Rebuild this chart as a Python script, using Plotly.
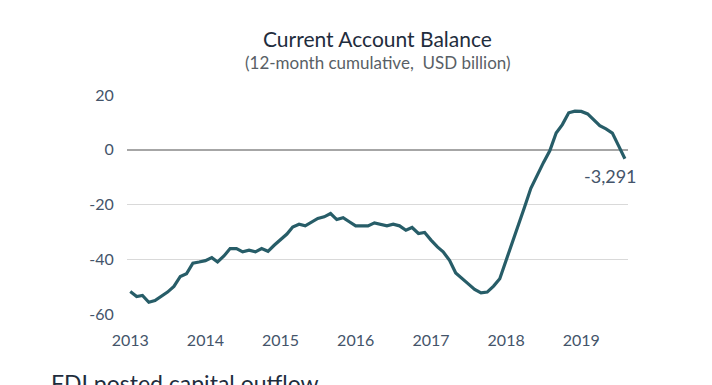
import plotly.graph_objects as go
import pandas as pd

months = pd.date_range("2013-01-01", "2019-08-01", freq="MS")
balance = [
    -51.8, -53.6, -53.2, -55.7, -55.1, -53.6, -52.0, -49.9, -46.3, -45.3, -41.4, -41.0,
    -40.5, -39.4, -41.0, -38.8, -36.1, -36.1, -37.3, -36.7, -37.3, -36.1, -37.1, -34.9,
    -32.7, -30.8, -28.2, -27.2, -27.8, -26.3, -25.1, -24.5, -23.3, -25.5, -24.8, -26.3,
    -27.8, -27.8, -27.8, -26.7, -27.2, -27.8, -27.2, -27.8, -29.4, -28.4, -30.6, -30.2,
    -33.0, -35.5, -37.3, -40.4, -45.0, -47.2, -49.0, -51.0, -52.3, -52.0, -49.8, -47.1,
    -40.4, -33.7, -28.2, -20.8, -14.1, -9.2, -4.7, -0.4, 6.1, 9.2, 13.5, 14.1,
    14.0, 13.1, 11.0, 8.8, 7.6, 6.1, 1.5, -3.291,
]
year_ticks = ["2013-01-01", "2014-01-01", "2015-01-01", "2016-01-01",
              "2017-01-01", "2018-01-01", "2019-01-01"]
year_labels = ["2013", "2014", "2015", "2016", "2017", "2018", "2019"]
y_ticks = [20, 0, -20, -40, -60]
y_labels = ["20", "0", "-20", "-40", "-60"]
last_label = "-3,291"

FONT = "Lato"
fig = go.Figure()
fig.add_trace(go.Scatter(
    x=months, y=balance, mode="lines",
    line=dict(color="#275D68", width=3.2), hoverinfo="skip", showlegend=False,
))
fig.add_annotation(
    x=months[-1], y=balance[-1], text=last_label, showarrow=False,
    xanchor="center", yanchor="middle", xshift=-14, yshift=-17,
    font=dict(family=FONT, size=18, color="#44546A"),
)
fig.add_annotation(
    xref="paper", yref="paper", x=0.5, y=1, yshift=57, xanchor="center", yanchor="middle",
    text="Current Account Balance", showarrow=False,
    font=dict(family=FONT, size=21, color="#1F2D3D"),
)
fig.add_annotation(
    xref="paper", yref="paper", x=0.5, y=1, yshift=33, xanchor="center", yanchor="middle",
    text="(12-month cumulative,  USD billion)", showarrow=False,
    font=dict(family=FONT, size=17, color="#595F66"),
)
fig.add_annotation(
    xref="paper", yref="paper", x=0, xshift=-78, y=0, yshift=-53,
    xanchor="left", yanchor="top",
    text="FDI posted capital outflow", showarrow=False,
    font=dict(family=FONT, size=23, color="#1F2D3D"),
)
fig.update_layout(
    width=704, height=377,
    margin=dict(l=119, r=84, t=87, b=71),
    paper_bgcolor="white", plot_bgcolor="white",
    xaxis=dict(
        range=["2012-12-16", "2019-08-16"],
        tickvals=year_ticks, ticktext=year_labels,
        showgrid=False, zeroline=False, showline=False,
        ticks="outside", ticklen=12, tickcolor="rgba(0,0,0,0)",
        tickfont=dict(family=FONT, size=16, color="#44546A"),
    ),
    yaxis=dict(
        range=[-60, 20], tickvals=y_ticks, ticktext=y_labels,
        showgrid=True, gridcolor="#D9D9D9", gridwidth=1,
        zeroline=True, zerolinecolor="#A6A6A6", zerolinewidth=1.5,
        showline=False,
        ticks="outside", ticklen=9, tickcolor="rgba(0,0,0,0)",
        tickfont=dict(family=FONT, size=16, color="#44546A"),
    ),
)
fig.write_html("out.html")
